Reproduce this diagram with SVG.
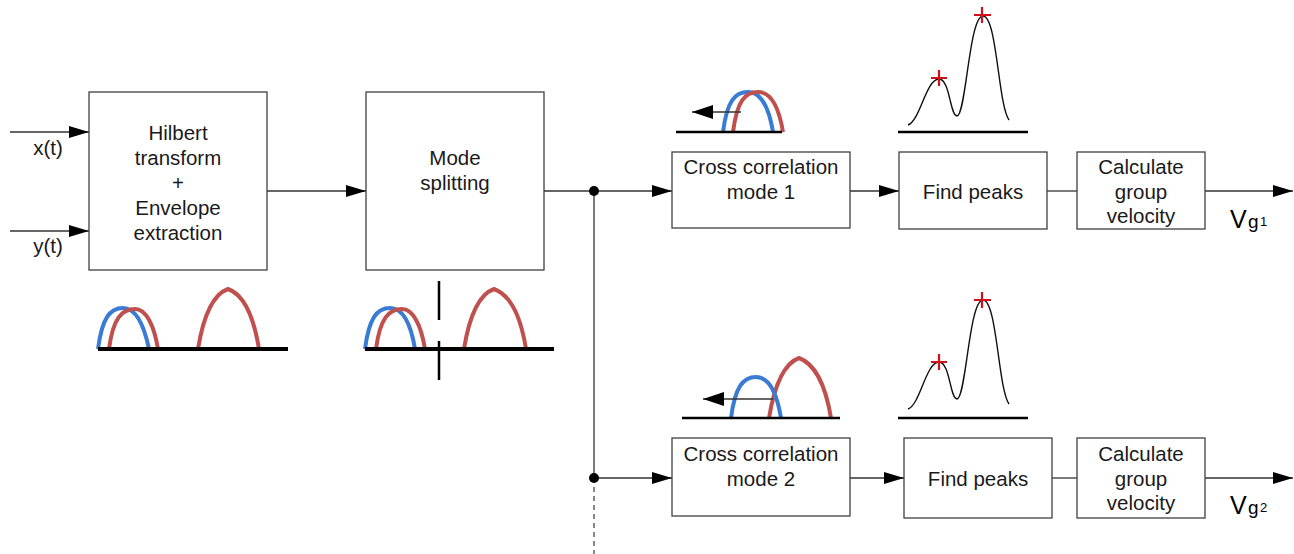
<svg xmlns="http://www.w3.org/2000/svg" width="1294" height="554" viewBox="0 0 1294 554">
  <defs>
    <marker id="arrow" markerWidth="20" markerHeight="12" refX="20" refY="6" orient="auto" markerUnits="userSpaceOnUse">
      <path d="M0,0 L20,6 L0,12 Z" fill="#000"/>
    </marker>
    <marker id="arrowSmall" markerWidth="21" markerHeight="14" refX="21" refY="7" orient="auto" markerUnits="userSpaceOnUse">
      <path d="M0,0 L21,7 L0,14 Z" fill="#000"/>
    </marker>
  </defs>
  <style>
    .box { fill: #fff; stroke: #404040; stroke-width: 1.3; }
    .lbl { font-family: "Liberation Sans", Arial, sans-serif; font-size: 20.5px; fill: #1a1a1a; text-anchor: middle; }
    .wire { fill: none; stroke: #333; stroke-width: 1.3; }
    .dash { fill: none; stroke: #555; stroke-width: 1.4; stroke-dasharray: 5 4; }
    .base { stroke: #000; stroke-width: 4; fill: none; }
    .thin { stroke: #000; stroke-width: 2.5; fill: none; }
    .blue { fill: none; stroke: #3a7bd5; stroke-width: 4; }
    .red { fill: none; stroke: #c0504d; stroke-width: 4; }
    .peak { fill: none; stroke: #111; stroke-width: 1.4; }
    .cross { stroke: #d0101a; stroke-width: 2.2; fill: none; }
    .dot { fill: #000; }
    .v { font-family: "Liberation Sans", Arial, sans-serif; fill: #000; }
  </style>

  <!-- connectors -->
  <g id="connectors">
    <line class="wire" x1="10" y1="132" x2="89" y2="132" marker-end="url(#arrow)"/>
    <line class="wire" x1="10" y1="231" x2="89" y2="231" marker-end="url(#arrow)"/>
    <line class="wire" x1="267" y1="191" x2="366" y2="191" marker-end="url(#arrow)"/>
    <line class="wire" x1="544" y1="191" x2="672" y2="191" marker-end="url(#arrow)"/>
    <line class="wire" x1="594" y1="191" x2="594" y2="478"/>
    <line class="dash" x1="594" y1="478" x2="594" y2="554"/>
    <line class="wire" x1="594" y1="478" x2="672" y2="478" marker-end="url(#arrow)"/>
    <line class="wire" x1="850" y1="191" x2="899" y2="191" marker-end="url(#arrow)"/>
    <line class="wire" x1="1047" y1="191" x2="1077" y2="191"/>
    <line class="wire" x1="1205" y1="191" x2="1293" y2="191" marker-end="url(#arrow)"/>
    <line class="wire" x1="850" y1="478" x2="904" y2="478" marker-end="url(#arrow)"/>
    <line class="wire" x1="1052" y1="478" x2="1077" y2="478"/>
    <line class="wire" x1="1205" y1="478" x2="1293" y2="478" marker-end="url(#arrow)"/>
    <circle class="dot" cx="594" cy="191" r="5"/>
    <circle class="dot" cx="594" cy="478" r="5"/>
  </g>

  <!-- input labels -->
  <g id="inputs">
    <text class="lbl" x="48" y="155">x(t)</text>
    <text class="lbl" x="48" y="253">y(t)</text>
  </g>

  <g id="hilbert">
    <rect class="box" x="89" y="92" width="178" height="178"/>
    <text class="lbl" x="178" y="140">Hilbert</text>
    <text class="lbl" x="178" y="165">transform</text>
    <text class="lbl" x="178" y="190">+</text>
    <text class="lbl" x="178" y="215">Envelope</text>
    <text class="lbl" x="178" y="240">extraction</text>
  </g>

  <g id="mode-splitting">
    <rect class="box" x="366" y="92" width="178" height="178"/>
    <text class="lbl" x="455" y="165">Mode</text>
    <text class="lbl" x="455" y="190">splitting</text>
  </g>

  <g id="xcorr1">
    <rect class="box" x="672" y="152" width="178" height="76"/>
    <text class="lbl" x="761" y="174">Cross correlation</text>
    <text class="lbl" x="761" y="199">mode 1</text>
  </g>

  <g id="peaks1">
    <rect class="box" x="899" y="152" width="148" height="77"/>
    <text class="lbl" x="973" y="199">Find peaks</text>
  </g>

  <g id="velocity1">
    <rect class="box" x="1077" y="152" width="128" height="77"/>
    <text class="lbl" x="1141" y="174">Calculate</text>
    <text class="lbl" x="1141" y="199">group</text>
    <text class="lbl" x="1141" y="223">velocity</text>
  </g>

  <g id="xcorr2">
    <rect class="box" x="672" y="438" width="178" height="78"/>
    <text class="lbl" x="761" y="461">Cross correlation</text>
    <text class="lbl" x="761" y="486">mode 2</text>
  </g>

  <g id="peaks2">
    <rect class="box" x="904" y="438" width="148" height="80"/>
    <text class="lbl" x="978" y="486">Find peaks</text>
  </g>

  <g id="velocity2">
    <rect class="box" x="1077" y="438" width="128" height="80"/>
    <text class="lbl" x="1141" y="461">Calculate</text>
    <text class="lbl" x="1141" y="486">group</text>
    <text class="lbl" x="1141" y="510">velocity</text>
  </g>

  <!-- output labels -->
  <g id="out1">
    <text class="v" x="1230" y="228" font-size="25">V</text>
    <text class="v" x="1248" y="228" font-size="19">g</text>
    <text class="v" x="1260" y="226" font-size="13">1</text>
  </g>
  <g id="out2">
    <text class="v" x="1230" y="514" font-size="25">V</text>
    <text class="v" x="1248" y="514" font-size="19">g</text>
    <text class="v" x="1260" y="512" font-size="13">2</text>
  </g>

  <!-- envelope sketch under the Hilbert block -->
  <g id="sketch-envelopes">
    <path class="blue" d="M98,349 C102,318 110,308 123,308 C136,308 144,325 149,349"/>
    <path class="red" d="M109,349 C113,318 122,309 135,309 C146,309 154,325 158,349"/>
    <path class="red" d="M198,349 C204,312 214,294 228,289 C242,294 253,312 259,349"/>
    <line class="base" x1="98" y1="349" x2="288" y2="349"/>
  </g>

  <!-- split envelopes under the mode splitting block -->
  <g id="sketch-split">
    <path class="blue" d="M365,349 C369,318 377,308 390,308 C403,308 411,325 415,349"/>
    <path class="red" d="M376,349 C380,318 389,309 402,309 C413,309 421,325 425,349"/>
    <path class="red" d="M464,349 C470,312 480,294 494,289 C508,294 520,312 526,349"/>
    <line class="base" x1="365" y1="349" x2="554" y2="349"/>
    <line class="thin" x1="439" y1="281" x2="439" y2="320"/>
    <line class="thin" x1="439" y1="341" x2="439" y2="380"/>
  </g>

  <!-- correlation sketch, mode 1 -->
  <g id="sketch-xcorr1">
    <path class="blue" d="M723,132 C727,101 735,92 748,92 C761,92 769,108 773,132"/>
    <path class="red" d="M733,132 C737,101 745,92 758,92 C771,92 779,108 783,132"/>
    <line class="wire" x1="741" y1="112" x2="692" y2="112" marker-end="url(#arrowSmall)"/>
    <line class="thin" x1="676" y1="132" x2="782" y2="132"/>
  </g>

  <!-- correlation sketch, mode 2 -->
  <g id="sketch-xcorr2">
    <path class="red" d="M769,418 C775,382 785,363 799,358 C813,363 825,382 831,418"/>
    <path class="blue" d="M731,418 C735,387 743,377 756,377 C769,377 777,394 781,418"/>
    <line class="wire" x1="773" y1="399" x2="703" y2="399" stroke="#666" marker-end="url(#arrowSmall)"/>
    <line class="thin" x1="682" y1="418" x2="840" y2="418"/>
  </g>

  <!-- peak picking sketch, row 1 -->
  <g id="sketch-peaks1">
    <path class="peak" d="M908,125 C920,121 926,79 939,79 C950,79 950,116 957,116 C966,116 969,16 983,16 C997,16 998,104 1009,120"/>
    <line class="thin" x1="898" y1="132" x2="1028" y2="132"/>
    <path class="cross" d="M931,78 H947 M939,70 V86"/>
    <path class="cross" d="M974,15 H991 M982,7 V23"/>
  </g>

  <!-- peak picking sketch, row 2 -->
  <g id="sketch-peaks2">
    <path class="peak" d="M908,409 C920,405 926,362 939,362 C950,362 950,399 957,399 C966,399 969,300 983,300 C997,300 998,388 1009,404"/>
    <line class="thin" x1="898" y1="418" x2="1028" y2="418"/>
    <path class="cross" d="M931,362 H947 M939,354 V370"/>
    <path class="cross" d="M974,300 H991 M982,292 V308"/>
  </g>
</svg>
